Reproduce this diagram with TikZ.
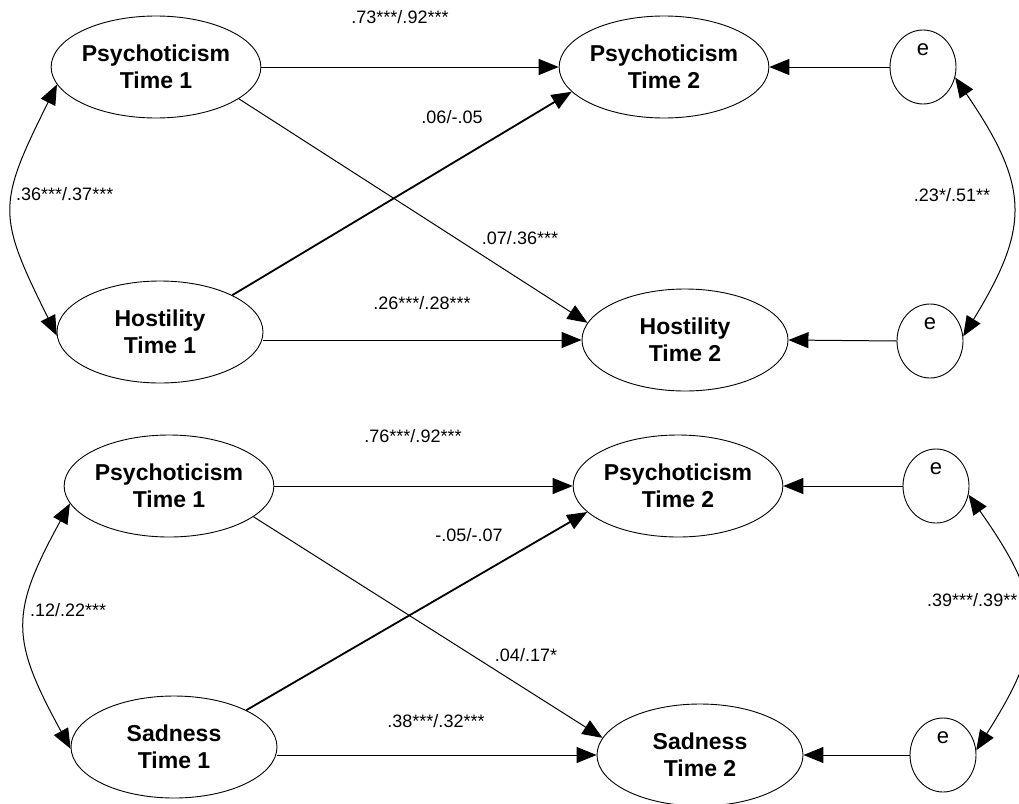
\documentclass[tikz,border=0pt]{standalone}
\usepackage{fontspec}
\setmainfont{Liberation Sans}
\usetikzlibrary{shapes.geometric,arrows.meta}
\begin{document}
\begin{tikzpicture}[x=1pt,y=-1pt,
 latent/.style={draw, ellipse, line width=0.9pt, inner sep=0pt, minimum width=206pt, minimum height=102pt, align=center, font=\fontsize{23}{27}\selectfont\bfseries},
 err/.style={draw, ellipse, line width=0.9pt, inner sep=0pt, minimum width=66pt, minimum height=74pt, font=\fontsize{22}{26}\selectfont, text height=12pt, text depth=35pt},
 coef/.style={font=\fontsize{18}{21}\selectfont, inner sep=0pt},
 arr/.style={line width=1pt, -{Triangle[length=20pt,width=16pt]}},
 arrthick/.style={line width=1.8pt, -{Triangle[length=20pt,width=16pt]}},
 cov/.style={line width=1pt, {Triangle[length=20pt,width=16pt]}-{Triangle[length=20pt,width=16pt]}},
]
\useasboundingbox (0,0) rectangle (1019,803);

% ---------- top panel ----------
\node[latent] (p1) at (156,67) {Psychoticism\\Time 1};
\node[latent] (h1) at (160,332) {Hostility\\Time 1};
\node[latent] (p2) at (664,67) {Psychoticism\\Time 2};
\node[latent] (h2) at (685,340) {Hostility\\Time 2};
\node[err] (e1) at (923,67) {e};
\node[err] (e2) at (930,341) {e};

\draw[arr] (p1.east) -- (p2.west);
\draw[arr] (p1.-21) -- (h2.170);
\draw[arrthick] (h1.27) -- (p2.195);
\draw[arr] (h1.east |- h2.west) -- (h2.west);
\draw[arr] (e1.west) -- (p2.east);
\draw[arr] (e2.west) -- (h2.east);
\draw[cov] (p1.190) .. controls (-3,205) and (-3,215) .. (h1.182);
\draw[cov] (e1.-18) .. controls (1030,187) and (1030,227) .. (e2.8);

\node[coef] (l1) at (400,17) {.73***/.92***};
\node[coef] (l2) at (452,117) {.06/-.05};
\node[coef] (l3) at (520,238) {.07/.36***};
\node[coef] (l4) at (422,303) {.26***/.28***};
\node[coef, anchor=west] (l5) at (16,194) {.36***/.37***};
\node[coef] (l6) at (952,195) {.23*/.51**};

% ---------- bottom panel ----------
\node[latent] (q1) at (169,486) {Psychoticism\\Time 1};
\node[latent] (s1) at (174,747) {Sadness\\Time 1};
\node[latent] (q2) at (678,486) {Psychoticism\\Time 2};
\node[latent] (s2) at (700,755) {Sadness\\Time 2};
\node[err] (f1) at (936,486) {e};
\node[err] (f2) at (943,755) {e};

\draw[arr] (q1.east) -- (q2.west);
\draw[arr] (q1.-20) -- (s2.170);
\draw[arrthick] (s1.27) -- (q2.196);
\draw[arr] (s1.east |- s2.west) -- (s2.west);
\draw[arr] (f1.west) -- (q2.east);
\draw[arr] (f2.west) -- (s2.east);
\draw[cov] (q1.190) .. controls (10,613) and (10,638) .. (s1.181);
\draw[cov] (f1.-15) .. controls (1046,605) and (1046,640) .. (f2.8);

\node[coef] (m1) at (413,436) {.76***/.92***};
\node[coef] (m2) at (469,535) {-.05/-.07};
\node[coef] (m3) at (526,655) {.04/.17*};
\node[coef] (m4) at (436,721) {.38***/.32***};
\node[coef, anchor=west] (m5) at (30,610) {.12/.22***};
\node[coef, anchor=west] (m6) at (927,600) {.39***/.39**};
\end{tikzpicture}
\end{document}
